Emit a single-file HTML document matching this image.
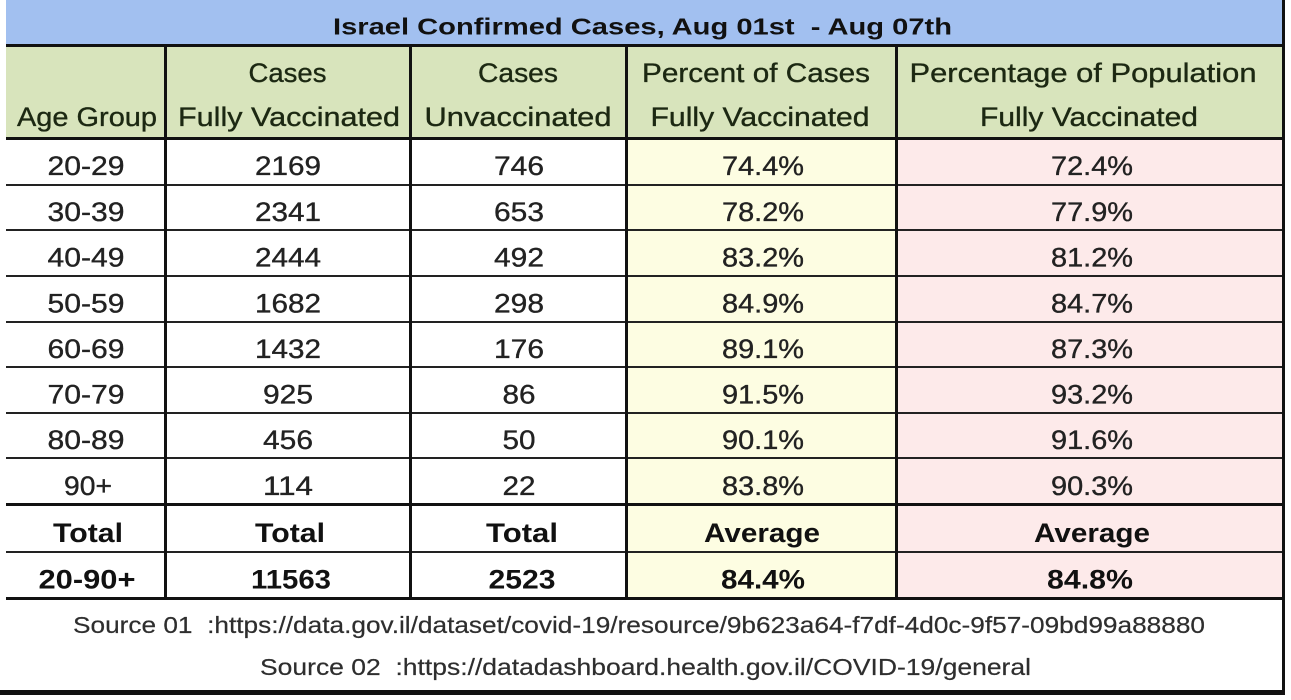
<!DOCTYPE html>
<html>
<head>
<meta charset="utf-8">
<style>
  html,body{margin:0;padding:0;background:#fff;}
  svg{display:block;}
  text{font-family:"Liberation Sans", sans-serif;}
  .h{font-size:26.5px;fill:#1c2812;stroke:#1c2812;stroke-width:0.35px;}
  .d{font-size:26.5px;fill:#222;stroke:#222;stroke-width:0.35px;}
  .b{font-size:26.5px;font-weight:bold;fill:#111;}
  .s{font-size:23px;fill:#2e2e2e;white-space:pre;stroke:#2e2e2e;stroke-width:0.2px;}
</style>
</head>
<body>
<svg width="1291" height="700" viewBox="0 0 1291 700" xmlns="http://www.w3.org/2000/svg">
  <rect x="0" y="0" width="1291" height="700" fill="#fff"/>
  <!-- title -->
  <rect x="6" y="0" width="1276" height="44" fill="#a2c0f0"/>
  <rect x="6" y="44" width="1279" height="3" fill="#111"/>
  <!-- header -->
  <rect x="6" y="47" width="1276" height="90" fill="#d8e4bc"/>
  <rect x="6" y="137" width="1279" height="3" fill="#111"/>
  <!-- coloured columns -->
  <rect x="626" y="140" width="270" height="458" fill="#fdfde2"/>
  <rect x="896" y="140" width="386" height="458" fill="#fdeaea"/>
  <!-- row lines -->
  <g fill="#222">
    <rect x="6" y="184" width="1276" height="2"/>
    <rect x="6" y="229" width="1276" height="2"/>
    <rect x="6" y="275" width="1276" height="2"/>
    <rect x="6" y="321" width="1276" height="2"/>
    <rect x="6" y="366" width="1276" height="2"/>
    <rect x="6" y="412" width="1276" height="2"/>
    <rect x="6" y="457" width="1276" height="2"/>
    <rect x="6" y="551" width="1276" height="2"/>
  </g>
  <rect x="6" y="503" width="1276" height="3" fill="#111"/>
  <rect x="6" y="597" width="1276" height="3" fill="#111"/>
  <!-- vertical lines -->
  <g fill="#111">
    <rect x="164" y="47" width="3" height="553"/>
    <rect x="409" y="47" width="3" height="553"/>
    <rect x="625" y="47" width="3" height="553"/>
    <rect x="895" y="47" width="3" height="553"/>
  </g>
  <!-- outer border -->
  <rect x="1282" y="0" width="3" height="695" fill="#111"/>
  <rect x="0" y="690" width="1285" height="5" fill="#111"/>

  <!-- title text -->
  <text x="333" y="34.5" style="font-size:23px;font-weight:bold;fill:#111;white-space:pre" textLength="619" lengthAdjust="spacingAndGlyphs">Israel Confirmed Cases, Aug 01st  - Aug 07th</text>

  <!-- header text -->
  <g class="h" text-anchor="middle">
    <text x="287.5" y="82" textLength="78" lengthAdjust="spacingAndGlyphs">Cases</text>
    <text x="518" y="82" textLength="80" lengthAdjust="spacingAndGlyphs">Cases</text>
    <text x="756" y="82" textLength="228" lengthAdjust="spacingAndGlyphs">Percent of Cases</text>
    <text x="1083" y="82" textLength="347" lengthAdjust="spacingAndGlyphs">Percentage of Population</text>
    <text x="87" y="126" textLength="140" lengthAdjust="spacingAndGlyphs">Age Group</text>
    <text x="289" y="126" textLength="222" lengthAdjust="spacingAndGlyphs">Fully Vaccinated</text>
    <text x="518" y="126" textLength="187" lengthAdjust="spacingAndGlyphs">Unvaccinated</text>
    <text x="760" y="126" textLength="219" lengthAdjust="spacingAndGlyphs">Fully Vaccinated</text>
    <text x="1089" y="126" textLength="218" lengthAdjust="spacingAndGlyphs">Fully Vaccinated</text>
  </g>

  <!-- data rows -->
  <g class="d" text-anchor="middle">
    <text x="86" y="175" textLength="77" lengthAdjust="spacingAndGlyphs">20-29</text>
    <text x="288" y="175" textLength="66" lengthAdjust="spacingAndGlyphs">2169</text>
    <text x="519" y="175" textLength="50" lengthAdjust="spacingAndGlyphs">746</text>
    <text x="763" y="175" textLength="82" lengthAdjust="spacingAndGlyphs">74.4%</text>
    <text x="1092" y="175" textLength="82" lengthAdjust="spacingAndGlyphs">72.4%</text>

    <text x="86" y="221" textLength="77" lengthAdjust="spacingAndGlyphs">30-39</text>
    <text x="288" y="221" textLength="66" lengthAdjust="spacingAndGlyphs">2341</text>
    <text x="519" y="221" textLength="50" lengthAdjust="spacingAndGlyphs">653</text>
    <text x="763" y="221" textLength="82" lengthAdjust="spacingAndGlyphs">78.2%</text>
    <text x="1092" y="221" textLength="82" lengthAdjust="spacingAndGlyphs">77.9%</text>

    <text x="86" y="266.5" textLength="77" lengthAdjust="spacingAndGlyphs">40-49</text>
    <text x="288" y="266.5" textLength="66" lengthAdjust="spacingAndGlyphs">2444</text>
    <text x="519" y="266.5" textLength="50" lengthAdjust="spacingAndGlyphs">492</text>
    <text x="763" y="266.5" textLength="82" lengthAdjust="spacingAndGlyphs">83.2%</text>
    <text x="1092" y="266.5" textLength="82" lengthAdjust="spacingAndGlyphs">81.2%</text>

    <text x="86" y="312.5" textLength="77" lengthAdjust="spacingAndGlyphs">50-59</text>
    <text x="288" y="312.5" textLength="66" lengthAdjust="spacingAndGlyphs">1682</text>
    <text x="519" y="312.5" textLength="50" lengthAdjust="spacingAndGlyphs">298</text>
    <text x="763" y="312.5" textLength="82" lengthAdjust="spacingAndGlyphs">84.9%</text>
    <text x="1092" y="312.5" textLength="82" lengthAdjust="spacingAndGlyphs">84.7%</text>

    <text x="86" y="358" textLength="77" lengthAdjust="spacingAndGlyphs">60-69</text>
    <text x="288" y="358" textLength="66" lengthAdjust="spacingAndGlyphs">1432</text>
    <text x="519" y="358" textLength="50" lengthAdjust="spacingAndGlyphs">176</text>
    <text x="763" y="358" textLength="82" lengthAdjust="spacingAndGlyphs">89.1%</text>
    <text x="1092" y="358" textLength="82" lengthAdjust="spacingAndGlyphs">87.3%</text>

    <text x="86" y="403.5" textLength="77" lengthAdjust="spacingAndGlyphs">70-79</text>
    <text x="288" y="403.5" textLength="50" lengthAdjust="spacingAndGlyphs">925</text>
    <text x="519" y="403.5" textLength="33" lengthAdjust="spacingAndGlyphs">86</text>
    <text x="763" y="403.5" textLength="82" lengthAdjust="spacingAndGlyphs">91.5%</text>
    <text x="1092" y="403.5" textLength="82" lengthAdjust="spacingAndGlyphs">93.2%</text>

    <text x="86" y="449" textLength="77" lengthAdjust="spacingAndGlyphs">80-89</text>
    <text x="288" y="449" textLength="50" lengthAdjust="spacingAndGlyphs">456</text>
    <text x="519" y="449" textLength="33" lengthAdjust="spacingAndGlyphs">50</text>
    <text x="763" y="449" textLength="82" lengthAdjust="spacingAndGlyphs">90.1%</text>
    <text x="1092" y="449" textLength="82" lengthAdjust="spacingAndGlyphs">91.6%</text>

    <text x="88" y="495" textLength="48" lengthAdjust="spacingAndGlyphs">90+</text>
    <text x="288" y="495" textLength="50" lengthAdjust="spacingAndGlyphs">114</text>
    <text x="519" y="495" textLength="33" lengthAdjust="spacingAndGlyphs">22</text>
    <text x="763" y="495" textLength="82" lengthAdjust="spacingAndGlyphs">83.8%</text>
    <text x="1092" y="495" textLength="82" lengthAdjust="spacingAndGlyphs">90.3%</text>
  </g>

  <!-- bold rows -->
  <g class="b" text-anchor="middle">
    <text x="88" y="542" textLength="70" lengthAdjust="spacingAndGlyphs">Total</text>
    <text x="290" y="542" textLength="70" lengthAdjust="spacingAndGlyphs">Total</text>
    <text x="522" y="542" textLength="72" lengthAdjust="spacingAndGlyphs">Total</text>
    <text x="762" y="542" textLength="116" lengthAdjust="spacingAndGlyphs">Average</text>
    <text x="1092" y="542" textLength="116" lengthAdjust="spacingAndGlyphs">Average</text>

    <text x="87" y="588.5" textLength="97" lengthAdjust="spacingAndGlyphs">20-90+</text>
    <text x="291" y="588.5" textLength="80" lengthAdjust="spacingAndGlyphs">11563</text>
    <text x="522" y="588.5" textLength="67" lengthAdjust="spacingAndGlyphs">2523</text>
    <text x="763" y="588.5" textLength="84" lengthAdjust="spacingAndGlyphs">84.4%</text>
    <text x="1090" y="588.5" textLength="86" lengthAdjust="spacingAndGlyphs">84.8%</text>
  </g>

  <!-- sources -->
  <text class="s" x="73" y="633" textLength="1132" lengthAdjust="spacingAndGlyphs">Source 01  :https://data.gov.il/dataset/covid-19/resource/9b623a64-f7df-4d0c-9f57-09bd99a88880</text>
  <text class="s" x="260" y="675" textLength="771" lengthAdjust="spacingAndGlyphs">Source 02  :https://datadashboard.health.gov.il/COVID-19/general</text>
</svg>
</body>
</html>
